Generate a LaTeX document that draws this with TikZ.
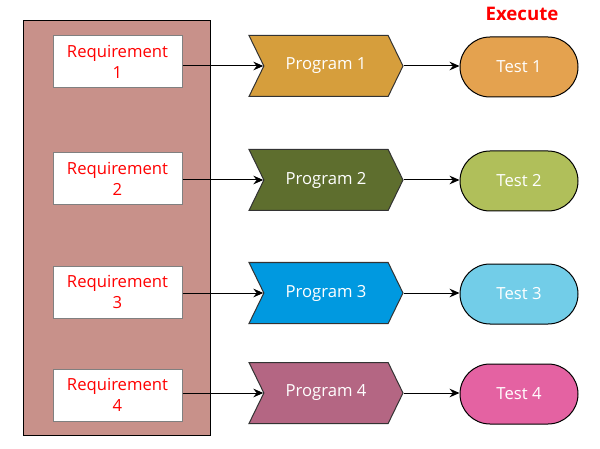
\documentclass[tikz,border=0pt]{standalone}
\usepackage{fontspec}
\setmainfont{Open Sans}
\usepackage{tikz}
\usetikzlibrary{arrows.meta}
\usetikzlibrary{shapes.symbols}
\definecolor{reqbg}{HTML}{C8918A}
\definecolor{progcolA}{HTML}{D69E3C}
\definecolor{progcolB}{HTML}{5E6E2E}
\definecolor{progcolC}{HTML}{0099E0}
\definecolor{progcolD}{HTML}{B46683}
\definecolor{testcolA}{HTML}{E4A24F}
\definecolor{testcolB}{HTML}{B0BF5A}
\definecolor{testcolC}{HTML}{72CDE8}
\definecolor{testcolD}{HTML}{E462A2}
\tikzset{req/.style = {draw=black!50, line width=0.75pt, fill=white, text=red, align=center,
                       minimum width=96.75pt, minimum height=39pt, inner sep=0,
                       font=\fontsize{12.5}{15.5}\selectfont}}
\tikzset{prog/.style = {signal, signal to=east, signal from=west,
                        signal pointer angle=128, draw=black!80, line width=0.75pt, text=white,
                        minimum width=115.5pt, minimum height=45.75pt, inner sep=0,
                        font=\fontsize{12.5}{15}\selectfont}}
\tikzset{test/.style = {rectangle, rounded corners=22.5pt, draw, line width=0.75pt, text=white,
                        minimum width=88.5pt, minimum height=45pt, inner sep=0,
                        font=\fontsize{12.5}{15}\selectfont}}
\tikzset{link/.style = {-{Stealth[length=7.5pt, width=6.5pt, inset=2.5pt]}, line width=0.75pt}}

\begin{document}
\begin{tikzpicture}[x=0.75pt, y=-0.75pt]
    \useasboundingbox (0, 0) rectangle (600, 449);
    \draw [fill=reqbg, line width=0.75pt] (23, 21) rectangle (210, 435);
    \node [req] (req1) at (117.5, 62) {Requirement\\1};
    \node [req] (req2) at (117.5, 179) {Requirement\\2};
    \node [req] (req3) at (117.5, 292) {Requirement\\3};
    \node [req] (req4) at (117.5, 395) {Requirement\\4};
    \node [prog, fill=progcolA] (prog1) at (326, 66) {Program 1};
    \node [prog, fill=progcolB] (prog2) at (326, 180) {Program 2};
    \node [prog, fill=progcolC] (prog3) at (326, 293) {Program 3};
    \node [prog, fill=progcolD] (prog4) at (326, 393) {Program 4};
    \node [test, fill=testcolA] (test1) at (519, 67) {Test 1};
    \node [test, fill=testcolB] (test2) at (519, 181) {Test 2};
    \node [test, fill=testcolC] (test3) at (519, 294) {Test 3};
    \node [test, fill=testcolD] (test4) at (519, 394) {Test 4};
    \node [text=red, font=\fontsize{14}{16}\bfseries] (exec) at (522, 14) {Execute};
    \draw [link] (req1.east |- prog1.west) -- (prog1.west);
    \draw [link] (req2.east |- prog2.west) -- (prog2.west);
    \draw [link] (req3.east |- prog3.west) -- (prog3.west);
    \draw [link] (req4.east |- prog4.west) -- (prog4.west);
    \draw [link] (prog1.east) -- (test1.west |- prog1.east);
    \draw [link] (prog2.east) -- (test2.west |- prog2.east);
    \draw [link] (prog3.east) -- (test3.west |- prog3.east);
    \draw [link] (prog4.east) -- (test4.west |- prog4.east);
\end{tikzpicture}
\end{document}
